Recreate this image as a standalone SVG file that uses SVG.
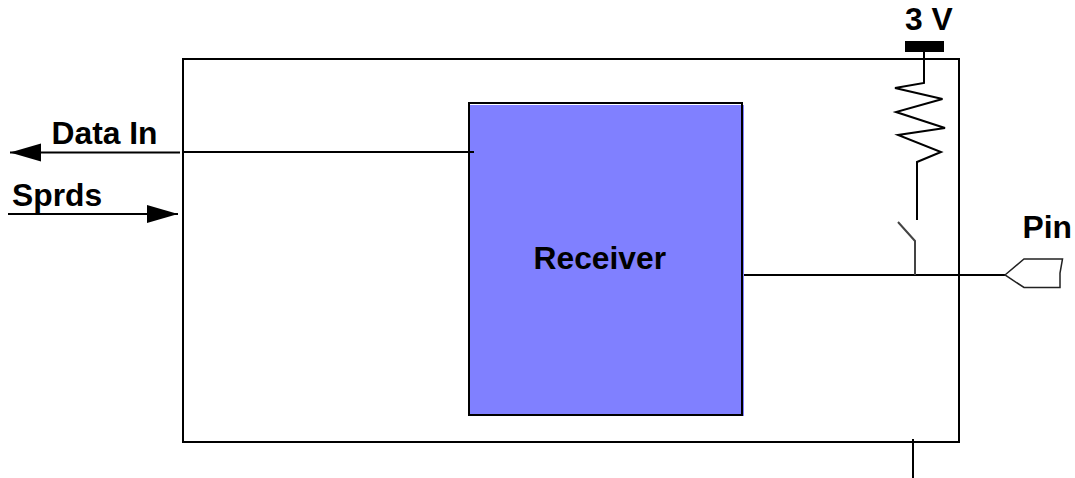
<svg xmlns="http://www.w3.org/2000/svg" width="1075" height="478" viewBox="0 0 1075 478">
<style>
.l{fill:none;stroke:#000;stroke-width:2}
.t{font-family:"Liberation Sans",Arial,sans-serif;font-weight:700;font-size:31.800px;fill:#000}
</style>
<defs>
<marker id="a" markerUnits="userSpaceOnUse" markerWidth="32" markerHeight="20" refX="31" refY="9" orient="auto"><path d="M0 0L31 9L0 18Z" fill="#000"/></marker>
</defs>
<rect width="1075" height="478" fill="#fff"/>
<g id="block"><rect class="l" x="183" y="59" width="776" height="383"/></g>
<g id="receiver">
<rect x="470" y="105" width="274" height="311" fill="#8080ff"/>
<rect class="l" x="469" y="103" width="273" height="312"/>
<text class="t" x="533.500" y="269">Receiver</text>
</g>
<g id="connectors">
<path class="l" d="M180 152.500H10" marker-end="url(#a)"/>
<path class="l" d="M8 214H178" marker-end="url(#a)"/>
<path class="l" d="M183 152H474"/>
<path class="l" d="M744 275H1005"/>
<path class="l" d="M913 439V478"/>
</g>
<g id="data-in"><text class="t" x="51.500" y="144">Data In</text></g>
<g id="sprds"><text class="t" x="12" y="206">Sprds</text></g>
<g id="supply">
<rect x="905" y="41" width="39" height="11" fill="#000"/>
<text class="t" x="905" y="30">3 V</text>
</g>
<g id="resistor"><path class="l" d="M924 52V83L895 88L942.500 99L896 112L945 128L898 135L941 152L917 162V220"/></g>
<g id="switch"><path d="M898 222L915 241V275" fill="none" stroke="#444" stroke-width="2"/></g>
<g id="pin">
<path d="M1005 275L1024 259H1062.500L1060 273V287.500H1024Z" fill="#fff" stroke="#222" stroke-width="1.500"/>
<text class="t" x="1022.500" y="238">Pin</text>
</g>
</svg>
